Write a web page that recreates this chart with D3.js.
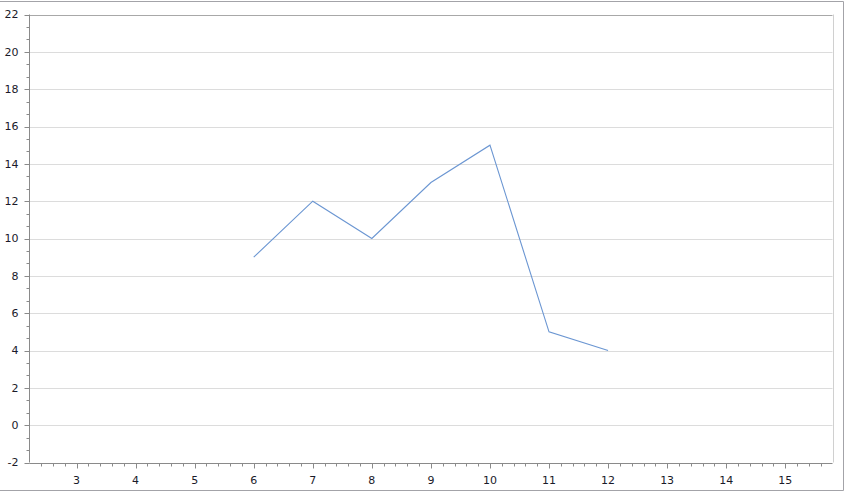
<!DOCTYPE html>
<html><head><meta charset="utf-8">
<script src="https://cdn.jsdelivr.net/npm/d3@7"></script>
<style>body{margin:0;background:#fff}svg{display:block}text{font-family:Tahoma,"DejaVu Sans",sans-serif;font-size:11px;fill:#1a1a2a}</style>
</head><body><svg id="c" width="845" height="493"></svg>
<script>
const xValues = [6, 7, 8, 9, 10, 11, 12];
const yValues = [9, 12, 10, 13, 15, 5, 4];
const xTickLabels = [3, 4, 5, 6, 7, 8, 9, 10, 11, 12, 13, 14, 15];
const yTickLabels = [-2, 0, 2, 4, 6, 8, 10, 12, 14, 16, 18, 20, 22];

const svg = d3.select("#c");
const L = 29.3, R = 832.5, T = 14.5, B = 462.5;
const x = d3.scaleLinear().domain([2.2, 15.8]).range([L, R]);
const y = d3.scaleLinear().domain([-2, 22]).range([B, T]);

// outer border
svg.append("path").attr("d", "M0,1.5H843.5V490.5H0").attr("fill", "none").attr("stroke", "#a3a3a8");

// gridlines
const g = svg.append("g");
g.selectAll("line.grid").data(yTickLabels.filter(v => v > -2 && v < 22)).join("line")
  .attr("x1", L).attr("x2", R).attr("y1", d => Math.round(y(d)) + 0.5).attr("y2", d => Math.round(y(d)) + 0.5)
  .attr("stroke", "#dcdcdc");
// plot borders
svg.append("line").attr("x1", L).attr("x2", R).attr("y1", Math.round(T) + 0.5).attr("y2", Math.round(T) + 0.5).attr("stroke", "#a8a8a8");
svg.append("line").attr("x1", Math.round(R) + 0.5).attr("x2", Math.round(R) + 0.5).attr("y1", T).attr("y2", B).attr("stroke", "#d0d0d0");

// y axis
const yMinor = d3.range(-2, 22.01, 2 / 3).filter(v => Math.abs(v - Math.round(v / 2) * 2) > 0.01);
const ya = svg.append("g").attr("transform", `translate(${Math.round(L) + 0.5},0)`);
ya.append("line").attr("y1", T).attr("y2", B).attr("stroke", "#8a8a8a");
ya.selectAll("line.mj").data(yTickLabels).join("line")
  .attr("x1", -5).attr("x2", 0).attr("y1", d => Math.round(y(d)) + 0.5).attr("y2", d => Math.round(y(d)) + 0.5).attr("stroke", "#8a8a8a");
ya.selectAll("line.mn").data(yMinor).join("line")
  .attr("x1", -3).attr("x2", 0).attr("y1", d => Math.round(y(d)) + 0.5).attr("y2", d => Math.round(y(d)) + 0.5).attr("stroke", "#8a8a8a");
ya.selectAll("text").data(yTickLabels).join("text")
  .attr("x", -11).attr("y", d => y(d)).attr("dy", "0.35em").attr("text-anchor", "end").text(d => d);

// x axis
const xMinor = d3.range(2.4, 15.8, 0.2).filter(v => Math.abs(v - Math.round(v)) > 0.01);
const xa = svg.append("g").attr("transform", `translate(0,${Math.round(B) + 0.5})`);
xa.append("line").attr("x1", L).attr("x2", R).attr("stroke", "#8a8a8a");
xa.selectAll("line.mj").data(xTickLabels).join("line")
  .attr("x1", d => Math.round(x(d)) + 0.5).attr("x2", d => Math.round(x(d)) + 0.5).attr("y1", 0).attr("y2", 5).attr("stroke", "#8a8a8a");
xa.selectAll("line.mn").data(xMinor).join("line")
  .attr("x1", d => Math.round(x(d)) + 0.5).attr("x2", d => Math.round(x(d)) + 0.5).attr("y1", 0).attr("y2", 3).attr("stroke", "#8a8a8a");
xa.selectAll("text").data(xTickLabels).join("text")
  .attr("x", d => x(d)).attr("y", 20).attr("text-anchor", "middle").text(d => d);

// line
svg.append("path").datum(xValues.map((v, i) => [v, yValues[i]]))
  .attr("fill", "none").attr("stroke", "#6b96d2").attr("stroke-width", 1.1)
  .attr("d", d3.line().x(d => x(d[0])).y(d => y(d[1])));
</script></body></html>
